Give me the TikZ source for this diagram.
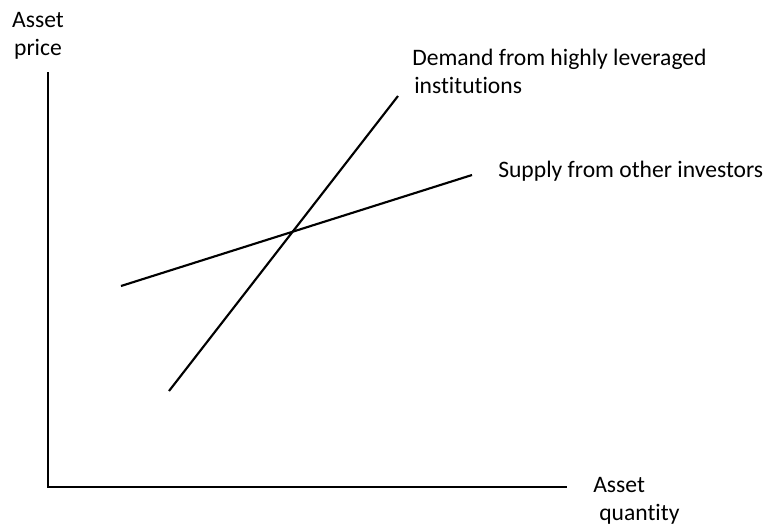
\documentclass[tikz,border=0pt]{standalone}
\usepackage{fontspec}
\setmainfont[Ligatures={NoCommon}]{Carlito}
\usetikzlibrary{positioning}
\tikzstyle{axis}=[draw,line width=1.9pt]
\tikzstyle{curve}=[draw,line width=1.6pt]
\tikzstyle{lbl}=[inner sep=0pt,anchor=base west,align=left,font=\fontsize{17.7}{21}\selectfont]

\begin{document}
\begin{tikzpicture}[x=0.75pt,y=-0.75pt]
  \useasboundingbox (0,0) rectangle (771,529);
  % axes
  \coordinate (o) at (48,487);
  \coordinate (ytop) at (48,72);
  \coordinate (xend) at (567,487);
  \draw[axis] (ytop) -- (o) -- (xend);
  % demand and supply lines
  \coordinate (dlow) at (169,391);
  \coordinate (dhigh) at (398,96);
  \coordinate (slow) at (121,286);
  \coordinate (shigh) at (472,175);
  \draw[curve] (dlow) -- (dhigh);
  \draw[curve] (slow) -- (shigh);
  % labels (base = last line)
  \node[lbl,align=center,anchor=base] (price) at (38,55) {Asset\\price};
  \node[lbl] (qty) at (593,520) {Asset\\\hspace{4.5pt}quantity};
  \node[lbl] (demand) at (412,93) {Demand from highly leveraged\\\hspace{1.5pt}institutions};
  \node[lbl] (supply) at (498,177) {Supply from other investors};
\end{tikzpicture}
\end{document}
